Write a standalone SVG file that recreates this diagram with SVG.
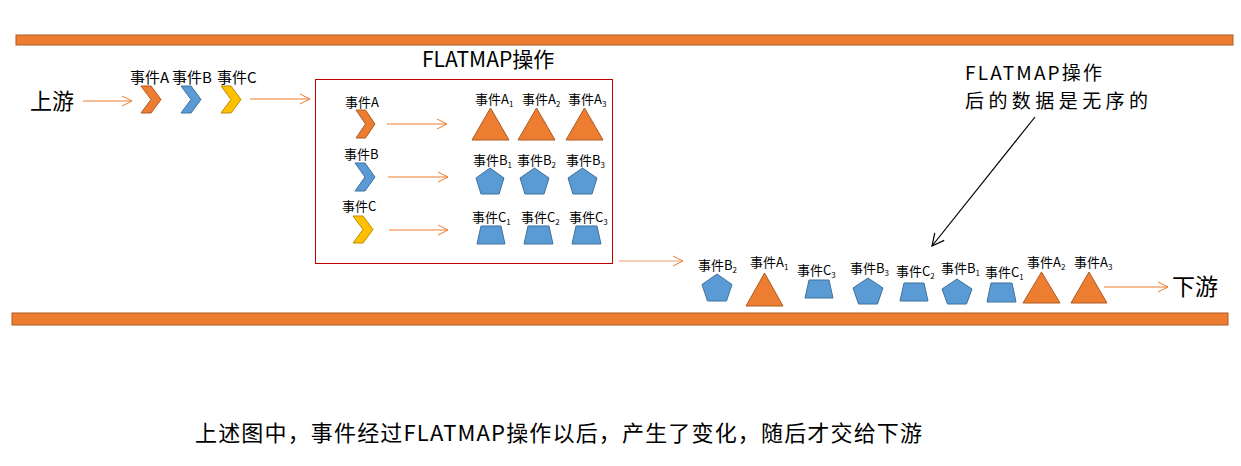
<svg xmlns="http://www.w3.org/2000/svg" width="1241" height="466" viewBox="0 0 1241 466">
<defs>
<marker id="ao" markerUnits="userSpaceOnUse" markerWidth="12" markerHeight="12" refX="11" refY="6" orient="auto"><path d="M1,1 L11,6 L1,11" fill="none" stroke="#ED7D31" stroke-width="1"/></marker>
<marker id="ak" markerUnits="userSpaceOnUse" markerWidth="14" markerHeight="14" refX="13" refY="7" orient="auto"><path d="M1,1 L13,7 L1,13" fill="none" stroke="#000" stroke-width="1.2"/></marker>
<style>
text{font-family:"Noto Sans CJK SC","Noto Sans",sans-serif;fill:#000}
.s{font-size:13px}
.m{font-size:15px}
.sub{font-size:8px}
.or{fill:#ED7D31;stroke:#AE5A21;stroke-width:1}
.bl{fill:#5B9BD5;stroke:#41719C;stroke-width:1}
.ye{fill:#FFC000;stroke:#BC8C00;stroke-width:1}
.ar{stroke:#ED7D31;stroke-width:1.2;fill:none;marker-end:url(#ao)}
</style>
</defs>
<rect x="16" y="35" width="1217" height="10" class="or"/>
<rect x="12" y="313" width="1216" height="12" class="or"/>
<g id="upstream"><text x="30" y="109" font-size="22">上游</text></g>
<g id="inputs">
<text x="130" y="83" class="m">事件A</text>
<text x="172" y="83" class="m">事件B</text>
<text x="217" y="83" class="m">事件C</text>
<polygon class="or" points="141,86 151,86 161,99.5 151,113 141,113 151,99.5"/>
<polygon class="bl" points="181,86 191,86 201,99.5 191,113 181,113 191,99.5"/>
<polygon class="ye" points="221,86 231,86 241,99.5 231,113 221,113 231,99.5"/>
</g>
<g id="flatmap">
<text x="422" y="67" font-size="21">FLATMAP操作</text>
<rect x="315.5" y="79.5" width="297" height="184" fill="none" stroke="#C00000" stroke-width="1"/>
<text x="345" y="107" class="s">事件A</text>
<text x="344" y="159" class="s">事件B</text>
<text x="342" y="211" class="s">事件C</text>
<polygon class="or" points="356,110 365.5,110 375,124 365.5,138 356,138 365.5,124"/>
<polygon class="bl" points="355,163 365,163 375,177 365,191 355,191 365,177"/>
<polygon class="ye" points="353,216 363,216 373,229.5 363,243 353,243 363,229.5"/>
<text x="475" y="104" class="s">事件A<tspan class="sub" dy="3">1</tspan></text>
<text x="522" y="104" class="s">事件A<tspan class="sub" dy="3">2</tspan></text>
<text x="568" y="104" class="s">事件A<tspan class="sub" dy="3">3</tspan></text>
<text x="473" y="165" class="s">事件B<tspan class="sub" dy="3">1</tspan></text>
<text x="517" y="165" class="s">事件B<tspan class="sub" dy="3">2</tspan></text>
<text x="566" y="165" class="s">事件B<tspan class="sub" dy="3">3</tspan></text>
<text x="472" y="222" class="s">事件C<tspan class="sub" dy="3">1</tspan></text>
<text x="521" y="222" class="s">事件C<tspan class="sub" dy="3">2</tspan></text>
<text x="569" y="222" class="s">事件C<tspan class="sub" dy="3">3</tspan></text>
<polygon class="or" points="490.5,108 509,140 472,140"/>
<polygon class="or" points="536.5,108 555,140 518,140"/>
<polygon class="or" points="584.5,108 603,140 566,140"/>
<polygon class="bl" points="490,168 504,178 499,194 481,194 476,178"/>
<polygon class="bl" points="534.5,168 549,178 544,194 525,194 520,178"/>
<polygon class="bl" points="582.5,168 597,178 592,194 573,194 568,178"/>
<polygon class="bl" points="481,226 501,226 505,244 477,244"/>
<polygon class="bl" points="528,226 549,226 553,244 524,244"/>
<polygon class="bl" points="576,226 597,226 601,244 572,244"/>
</g>
<g id="output">
<text x="698" y="270" class="s">事件B<tspan class="sub" dy="3">2</tspan></text>
<text x="750" y="267" class="s">事件A<tspan class="sub" dy="3">1</tspan></text>
<text x="797" y="275" class="s">事件C<tspan class="sub" dy="3">3</tspan></text>
<text x="850" y="273" class="s">事件B<tspan class="sub" dy="3">3</tspan></text>
<text x="896" y="276" class="s">事件C<tspan class="sub" dy="3">2</tspan></text>
<text x="941" y="273" class="s">事件B<tspan class="sub" dy="3">1</tspan></text>
<text x="985" y="277" class="s">事件C<tspan class="sub" dy="3">1</tspan></text>
<text x="1027" y="267" class="s">事件A<tspan class="sub" dy="3">2</tspan></text>
<text x="1074" y="267" class="s">事件A<tspan class="sub" dy="3">3</tspan></text>
<polygon class="bl" points="717,274 732,284.5 726.5,301 707.5,301 702,284.5"/>
<polygon class="or" points="764.5,273 783,306 746,306"/>
<polygon class="bl" points="809,280 829,280 833,298 805,298"/>
<polygon class="bl" points="868,278 883,288 877.5,304 858.5,304 853,288"/>
<polygon class="bl" points="904,283 924,283 928,301 900,301"/>
<polygon class="bl" points="957,279 972,289 966.5,304 947.5,304 942,289"/>
<polygon class="bl" points="991,283 1012,283 1016,302 987,302"/>
<polygon class="or" points="1041.5,272 1060,303 1023,303"/>
<polygon class="or" points="1089,272 1107,303 1071,303"/>
</g>
<g id="downstream"><text x="1172" y="295" font-size="23">下游</text></g>
<g id="note">
<text x="965" y="80" font-size="19" textLength="137">FLATMAP操作</text>
<text x="965" y="108" font-size="19" textLength="183">后的数据是无序的</text>
</g>
<g id="connectors">
<line x1="83" y1="101" x2="132" y2="101" class="ar"/>
<line x1="250" y1="99" x2="310" y2="99" class="ar"/>
<line x1="387" y1="124" x2="447" y2="124" class="ar"/>
<line x1="388" y1="177" x2="448" y2="177" class="ar"/>
<line x1="389" y1="230" x2="448" y2="230" class="ar"/>
<line x1="619" y1="261" x2="683" y2="261" class="ar" stroke-width="1.6" style="stroke:#F0A070"/>
<line x1="1104" y1="287" x2="1168" y2="287" class="ar"/>
<line x1="1035" y1="117" x2="932" y2="246" stroke="#000" stroke-width="1.2" marker-end="url(#ak)"/>
</g>
<g id="caption"><text x="195" y="441" font-size="22" textLength="727">上述图中，事件经过FLATMAP操作以后，产生了变化，随后才交给下游</text></g>
</svg>
